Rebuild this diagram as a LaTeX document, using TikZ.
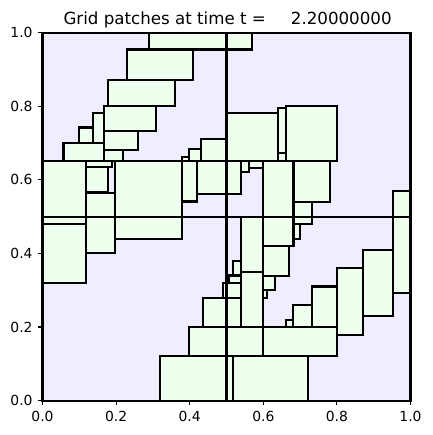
\documentclass[tikz,border=0pt]{standalone}
\usepackage{fontspec}
\setmainfont{DejaVu Sans}
\usepackage{xcolor}
\usepackage{tikz}
\definecolor{coarse}{RGB}{238,238,255}
\definecolor{fine}{RGB}{238,255,238}

\begin{document}
\begin{tikzpicture}[
  x=264.96pt, y=264.96pt,
  patch/.style={draw=black, fill=fine, line width=1.5pt},
  edge/.style={draw=black, line width=1.5pt},
  tickmark/.style={line width=0.8pt},
  ticklabel/.style={font=\fontsize{10}{12}\selectfont, inner sep=0pt}
]
\useasboundingbox (-0.11549,-0.09348) rectangle (1.05842,1.08859);
\fill[coarse] (0,0) rectangle (1,1);

\foreach \xa/\ya/\xb/\yb in {
  0.289/0.954/0.569/1.0, 0.230/0.871/0.408/0.954, 0.178/0.801/0.359/0.871,
  0.168/0.733/0.308/0.801, 0.136/0.701/0.168/0.782, 0.098/0.701/0.136/0.742,
  0.168/0.681/0.260/0.733, 0.057/0.651/0.168/0.701, 0.168/0.651/0.219/0.681,
  0.378/0.541/0.419/0.663, 0.399/0.651/0.430/0.683, 0.430/0.651/0.5/0.711,
  0.419/0.561/0.539/0.651, 0.5/0.651/0.639/0.781, 0.639/0.672/0.661/0.794,
  0.639/0.651/0.661/0.672, 0.661/0.651/0.801/0.801, 0.198/0.439/0.378/0.651,
  0/0.480/0.119/0.651, 0/0.320/0.119/0.480, 0.119/0.634/0.190/0.651,
  0.119/0.568/0.178/0.634, 0.119/0.401/0.198/0.565, 0.539/0.622/0.562/0.651,
  0.562/0.633/0.599/0.651, 0.599/0.419/0.682/0.651, 0.682/0.540/0.781/0.651,
  0.682/0.479/0.733/0.540, 0.682/0.440/0.700/0.479, 0.953/0.292/1.0/0.570,
  0.539/0.350/0.599/0.5, 0.539/0.199/0.599/0.350, 0.599/0.339/0.671/0.419,
  0.599/0.301/0.632/0.339, 0.599/0.280/0.611/0.301, 0.518/0.340/0.539/0.380,
  0.508/0.320/0.539/0.340, 0.490/0.280/0.539/0.320, 0.437/0.199/0.539/0.280,
  0.661/0.199/0.680/0.220, 0.680/0.199/0.733/0.260, 0.733/0.199/0.800/0.310,
  0.800/0.178/0.872/0.361, 0.872/0.230/0.953/0.409, 0.399/0.120/0.5/0.199,
  0.5/0.120/0.599/0.199, 0.599/0.120/0.800/0.199, 0.319/0/0.5/0.120,
  0.5/0/0.518/0.120, 0.518/0/0.721/0.120}
  \draw[patch] (\xa,\ya) rectangle (\xb,\yb);

\draw[edge] (0.5,0) -- (0.5,1);
\draw[edge] (0,0.5) -- (1,0.5);
\draw[edge] (0,0.651) -- (0.5,0.651);
\draw[edge] (0,0) rectangle (1,1);

\foreach \v/\t [count=\i] in {0/0.0, 0.2/0.2, 0.4/0.4, 0.6/0.6, 0.8/0.8, 1/1.0} {
  \draw[tickmark] (\v,0) -- (\v,-0.0132);
  \draw[tickmark] (0,\v) -- (-0.0132,\v);
  \node[ticklabel, anchor=base] (xlab\i) at (\v,-0.0573) {\t};
  \node[ticklabel, anchor=east] (ylab\i) at (-0.0264,\v) {\t};
}

\node[font=\fontsize{12}{14.4}\selectfont, anchor=base west, inner sep=0pt] (title)
  at (0.0565,1.0207) {Grid patches at time t =\hspace{18pt}2.20000000};
\end{tikzpicture}
\end{document}
